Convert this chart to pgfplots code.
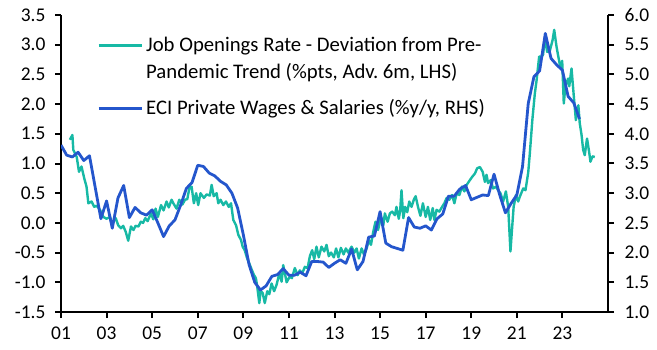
\documentclass[border=0pt]{standalone}
\usepackage{fontspec}
\setmainfont{Carlito}
\usepackage{pgfplots}
\pgfplotsset{compat=1.18}
\definecolor{teal1}{RGB}{23,185,165}
\definecolor{blue1}{RGB}{36,86,204}
\begin{document}
\frenchspacing
\begin{tikzpicture}
\pgfplotsset{
  common/.style={
    scale only axis, width=547bp, height=297bp,
    xmin=2001, xmax=2025,
    tick align=outside, major tick length=6bp,
    axis line style={line width=2.2bp, black},
    tick style={line width=2bp, black},
    /pgf/number format/assume math mode=true,
    tick label style={font=\fontsize{19.5}{23}\selectfont},
    yticklabel style={/pgf/number format/fixed, /pgf/number format/fixed zerofill, /pgf/number format/precision=1},
  }
}
\begin{axis}[common, name=ax,
  ymin=-1.5, ymax=3.5,
  axis x line*=bottom, axis y line*=left,
  xtick={2001,2003,2005,2007,2009,2011,2013,2015,2017,2019,2021,2023},
  xticklabels={01,03,05,07,09,11,13,15,17,19,21,23},
  ytick={-1.5,-1,-0.5,0,0.5,1,1.5,2,2.5,3,3.5},
  yticklabel style={xshift=-6bp},
  xticklabel style={yshift=-5bp},
]
\addplot[teal1, line width=2.4bp, line join=round] coordinates {
(2001.39,1.40)(2001.50,1.48)(2001.54,1.23)(2001.69,1.11)(2001.79,0.86)(2001.90,0.95)
(2002.02,0.75)(2002.12,0.61)(2002.20,0.33)(2002.34,0.36)(2002.46,0.27)(2002.56,0.29)
(2002.71,0.22)(2002.86,0.10)(2003.00,0.07)(2003.15,0.10)(2003.25,-0.01)(2003.40,0.08)
(2003.51,-0.04)(2003.63,-0.09)(2003.73,-0.05)(2003.84,-0.15)(2003.95,-0.30)(2004.07,-0.06)
(2004.18,-0.12)(2004.27,-0.05)(2004.40,-0.06)(2004.50,0.02)(2004.60,0.00)(2004.70,0.08)
(2004.80,0.03)(2004.95,0.16)(2005.05,0.06)(2005.15,0.24)(2005.25,0.10)(2005.39,0.30)
(2005.50,0.21)(2005.63,0.36)(2005.73,0.26)(2005.85,0.39)(2005.93,0.33)(2006.07,0.24)
(2006.19,0.39)(2006.33,0.31)(2006.44,0.39)(2006.54,0.40)(2006.63,0.58)(2006.73,0.61)
(2006.83,0.33)(2006.93,0.50)(2007.02,0.30)(2007.12,0.50)(2007.27,0.42)(2007.39,0.48)
(2007.53,0.46)(2007.61,0.64)(2007.70,0.45)(2007.83,0.50)(2007.90,0.33)(2008.00,0.39)
(2008.12,0.30)(2008.24,0.36)(2008.36,0.27)(2008.46,0.33)(2008.56,0.05)(2008.68,-0.04)
(2008.78,-0.20)(2008.90,-0.29)(2008.97,-0.40)(2009.06,-0.46)(2009.17,-0.60)(2009.26,-0.68)
(2009.37,-0.79)(2009.47,-0.88)(2009.55,-0.93)(2009.61,-1.07)(2009.70,-1.35)(2009.76,-1.15)
(2009.85,-1.18)(2009.94,-1.35)(2010.05,-1.15)(2010.14,-1.20)(2010.24,-1.02)(2010.35,-1.15)
(2010.46,-1.04)(2010.58,-0.85)(2010.68,-0.99)(2010.75,-0.71)(2010.90,-1.00)(2011.04,-0.90)
(2011.13,-0.93)(2011.26,-0.76)(2011.38,-0.88)(2011.48,-0.80)(2011.58,-0.85)(2011.70,-0.74)
(2011.82,-0.76)(2011.92,-0.56)(2012.02,-0.46)(2012.11,-0.61)(2012.21,-0.40)(2012.31,-0.58)
(2012.43,-0.40)(2012.55,-0.48)(2012.65,-0.37)(2012.75,-0.56)(2012.85,-0.50)(2012.97,-0.58)
(2013.07,-0.43)(2013.17,-0.58)(2013.28,-0.42)(2013.40,-0.53)(2013.50,-0.43)(2013.60,-0.50)
(2013.75,-0.40)(2013.87,-0.50)(2013.97,-0.43)(2014.07,-0.60)(2014.19,-0.43)(2014.30,-0.54)
(2014.41,-0.43)(2014.51,-0.29)(2014.60,-0.37)(2014.70,-0.15)(2014.80,0.02)(2014.91,-0.12)
(2015.04,0.10)(2015.14,-0.04)(2015.21,0.16)(2015.33,0.02)(2015.43,0.16)(2015.53,0.19)
(2015.65,0.13)(2015.72,0.27)(2015.82,0.07)(2015.88,0.20)(2015.94,0.55)(2016.02,0.08)
(2016.10,0.27)(2016.19,0.18)(2016.28,0.36)(2016.38,0.27)(2016.48,0.39)(2016.56,0.45)
(2016.67,0.26)(2016.77,0.12)(2016.88,0.33)(2017.00,0.10)(2017.10,0.27)(2017.20,0.05)
(2017.31,0.25)(2017.38,0.05)(2017.48,0.22)(2017.60,0.19)(2017.72,0.27)(2017.82,0.33)
(2017.92,0.42)(2018.04,0.39)(2018.16,0.47)(2018.26,0.33)(2018.36,0.50)(2018.48,0.47)
(2018.59,0.61)(2018.70,0.53)(2018.80,0.64)(2018.94,0.72)(2019.05,0.78)(2019.16,0.83)
(2019.26,0.92)(2019.38,0.94)(2019.50,0.86)(2019.60,0.69)(2019.67,0.81)(2019.74,0.67)
(2019.85,0.72)(2019.96,0.58)(2020.08,0.61)(2020.18,0.55)(2020.28,0.50)(2020.40,0.36)
(2020.52,0.53)(2020.62,0.27)(2020.72,-0.48)(2020.79,-0.10)(2020.86,0.27)(2020.96,0.47)
(2021.06,0.36)(2021.13,0.44)(2021.28,0.58)(2021.38,0.55)(2021.50,0.85)(2021.57,1.17)
(2021.68,1.73)(2021.79,2.18)(2021.86,2.38)(2021.98,2.80)(2022.08,2.80)(2022.15,2.83)
(2022.23,3.11)(2022.33,2.88)(2022.45,2.90)(2022.57,3.08)(2022.64,3.25)(2022.74,2.97)
(2022.82,2.80)(2022.92,2.60)(2022.99,2.73)(2023.06,2.01)(2023.13,2.30)(2023.25,2.43)
(2023.30,2.30)(2023.40,2.60)(2023.50,2.13)(2023.59,1.73)(2023.70,1.98)(2023.76,1.68)
(2023.84,1.48)(2023.91,1.23)(2023.98,1.14)(2024.08,1.42)(2024.17,1.20)(2024.23,1.03)
(2024.32,1.12)(2024.42,1.11)
};
\end{axis}
\begin{axis}[common,
  ymin=1, ymax=6,
  axis x line=none, axis y line*=right,
  ytick={1,1.5,2,2.5,3,3.5,4,4.5,5,5.5,6},
  yticklabel style={xshift=7bp},
  legend image code/.code={\draw[#1] (0bp,6.5bp) -- (43bp,6.5bp);},
  legend cell align=left,
  legend style={at={(36bp,275bp)}, anchor=north west, draw=none, fill=none,
    inner sep=0pt, row sep=10bp, column sep=3bp,
    font=\fontsize{20.8}{25}\selectfont,
    nodes={inner sep=0pt, anchor=base west}},
]
\addlegendimage{teal1, line width=3bp}
\addlegendentry{Job Openings Rate - Deviation from Pre-}
\addlegendimage{empty legend}
\addlegendentry{Pandemic Trend (\%pts, Adv. 6m, LHS)}
\addplot[blue1, line width=2.8bp, line join=round] coordinates {
(2001.00,3.81)(2001.25,3.64)(2001.50,3.61)(2001.75,3.69)(2002.00,3.55)(2002.25,3.63)
(2002.50,3.10)(2002.75,2.57)(2003.00,2.87)(2003.25,2.41)(2003.50,2.92)(2003.75,3.13)
(2004.00,2.59)(2004.25,2.76)(2004.50,2.67)(2004.75,2.63)(2005.00,2.72)(2005.25,2.50)
(2005.50,2.27)(2005.75,2.45)(2006.00,2.55)(2006.25,2.80)(2006.50,3.08)(2006.75,3.18)
(2007.00,3.47)(2007.25,3.45)(2007.50,3.34)(2007.75,3.29)(2008.00,3.20)(2008.25,3.14)
(2008.50,3.00)(2008.75,2.75)(2009.00,2.30)(2009.25,1.80)(2009.50,1.50)(2009.75,1.37)
(2010.00,1.44)(2010.25,1.60)(2010.50,1.63)(2010.75,1.73)(2011.00,1.62)(2011.25,1.62)
(2011.50,1.67)(2011.75,1.61)(2012.00,1.85)(2012.25,1.85)(2012.50,1.84)(2012.75,1.75)
(2013.00,1.82)(2013.25,1.88)(2013.50,1.82)(2013.75,2.06)(2014.00,1.71)(2014.25,1.85)
(2014.50,2.26)(2014.75,2.28)(2015.00,2.69)(2015.25,2.16)(2015.50,2.10)(2015.75,2.07)
(2016.00,2.04)(2016.25,2.59)(2016.50,2.43)(2016.75,2.41)(2017.00,2.45)(2017.25,2.38)
(2017.50,2.57)(2017.75,2.65)(2018.00,2.95)(2018.25,2.95)(2018.50,3.07)(2018.75,3.13)
(2019.00,2.89)(2019.25,2.93)(2019.50,2.97)(2019.75,2.96)(2020.00,3.32)(2020.25,2.97)
(2020.50,2.67)(2020.75,2.83)(2021.00,2.97)(2021.25,3.45)(2021.50,4.51)(2021.75,4.96)
(2022.00,5.06)(2022.25,5.69)(2022.50,5.27)(2022.75,5.16)(2023.00,5.07)(2023.25,4.63)
(2023.50,4.52)(2023.75,4.25)
};
\addlegendentry{\rule{0pt}{25bp}ECI Private Wages \& Salaries (\%y/y, RHS)}
\end{axis}
\path ([shift={(-61bp,-38bp)}]ax.south west) rectangle ([shift={(49bp,15bp)}]ax.north east);
\end{tikzpicture}
\end{document}
